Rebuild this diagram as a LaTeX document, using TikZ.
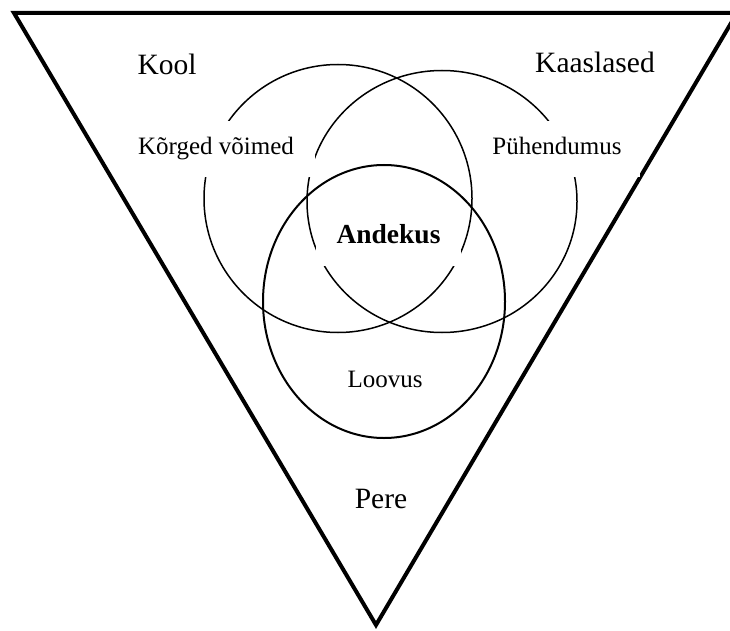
\documentclass[tikz,border=0pt]{standalone}
\usepackage{fontspec}
\setmainfont{Liberation Serif}
\begin{document}
\begin{tikzpicture}[x=1pt,y=-1pt,
    ring/.style={line width=1.5pt},
    outer/.style={anchor=base,font=\fontsize{29.5}{34}\selectfont},
    inner/.style={anchor=base,font=\fontsize{25}{30}\selectfont},
    cut/.style={fill=white,inner xsep=21pt,inner ysep=16.5pt,text height=17.5pt,text depth=5.5pt}]
  \useasboundingbox (0,0) rectangle (730,631);
  % outer triangle
  \draw[line width=4pt] (14,13) -- (737,13) -- (376,625) -- cycle;
  % the three rings
  \draw[ring] (338,198.5) circle[radius=134];
  \draw[ring] (442,201.5) ellipse[x radius=135,y radius=131];
  \draw[ring,line width=2pt] (384,301.5) ellipse[x radius=121,y radius=136.5];
  % labels
  \node[outer] (kool) at (167,75) {Kool};
  \node[outer] (kaaslased) at (595,73) {Kaaslased};
  \node[outer] (pere) at (381,508) {Pere};
  \node[inner,cut] (voimed) at (216,155) {Kõrged võimed};
  \node[inner,cut,inner xsep=18.5pt] (puhendumus) at (557,155) {Pühendumus};
  \node[inner] (loovus) at (385,387) {Loovus};
  \node[cut,anchor=base,font=\fontsize{27.5}{32}\selectfont\bfseries,
    text height=19.25pt,text depth=6pt] (andekus) at (388.5,243) {Andekus};
\end{tikzpicture}
\end{document}
